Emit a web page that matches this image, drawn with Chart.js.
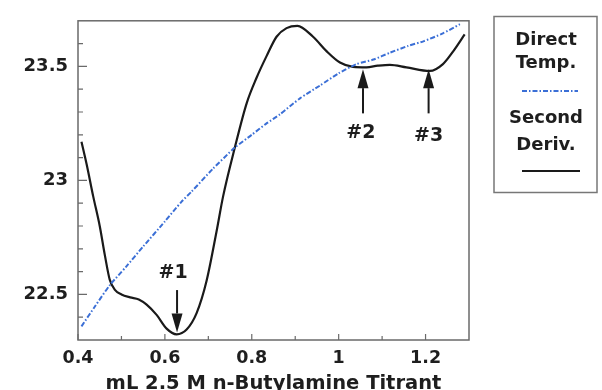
<!DOCTYPE html>
<html>
<head>
<meta charset="utf-8">
<script src="https://cdn.jsdelivr.net/npm/chart.js@4.4.1/dist/chart.umd.min.js"></script>
<style>
  html, body { margin: 0; padding: 0; background: #ffffff; }
  #wrap { width: 602px; height: 390px; }
</style>
</head>
<body>
<div id="wrap"><canvas id="c" width="602" height="390"></canvas></div>
<script>
// ---- Data ----
const directTempX = [0.408, 0.44, 0.473, 0.51, 0.55, 0.60, 0.638, 0.661, 0.71, 0.761, 0.80, 0.834, 0.865, 0.911, 0.957, 1.00, 1.041, 1.08, 1.118, 1.16, 1.195, 1.24, 1.279];
const directTempY = [22.36, 22.45, 22.54, 22.62, 22.71, 22.82, 22.906, 22.95, 23.05, 23.144, 23.20, 23.25, 23.29, 23.36, 23.416, 23.47, 23.51, 23.53, 23.56, 23.59, 23.61, 23.645, 23.685];

const secondDerivX = [0.408, 0.42, 0.435, 0.45, 0.462, 0.473, 0.485, 0.50, 0.52, 0.54, 0.558, 0.581, 0.604, 0.627, 0.65, 0.673, 0.696, 0.719, 0.734, 0.761, 0.788, 0.811, 0.834, 0.857, 0.88, 0.905, 0.941, 0.972, 1.003, 1.033, 1.064, 1.09, 1.118, 1.156, 1.21, 1.24, 1.264, 1.29];
const secondDerivY = [23.17, 23.07, 22.93, 22.80, 22.67, 22.565, 22.52, 22.50, 22.487, 22.478, 22.455, 22.41, 22.35, 22.325, 22.346, 22.418, 22.56, 22.777, 22.93, 23.144, 23.337, 23.45, 23.545, 23.63, 23.668, 23.678, 23.63, 23.567, 23.517, 23.498, 23.496, 23.503, 23.507, 23.496, 23.48, 23.51, 23.567, 23.64];

const xTickValues = [0.4, 0.6, 0.8, 1.0, 1.2];
const xTickLabels = ['0.4', '0.6', '0.8', '1', '1.2'];
const xMinorTicks = [0.5, 0.7, 0.9, 1.1];
const yTickValues = [22.5, 23, 23.5];
const yTickLabels = ['22.5', '23', '23.5'];
const yMinorTicks = [22.4, 22.6, 22.7, 22.8, 22.9, 23.1, 23.2, 23.3, 23.4, 23.6];

const xTitle = 'mL 2.5 M n-Butylamine Titrant';
const seriesNames = ['Direct Temp.', 'Second Deriv.'];

// annotation markers (data coordinates)
const markerLabels = ['#1', '#2', '#3'];
const markerX = [0.628, 1.056, 1.207];
const markerLabelX = [0.619, 1.051, 1.207];
const markerLabelY = [22.592, 23.208, 23.195];
const markerTailY = [22.519, 23.294, 23.294];
const markerTipY = [22.333, 23.488, 23.488];

// ---- Styling ----
const FONT = "'DejaVu Sans', 'Liberation Sans', sans-serif";
const TEXT = '#1e1e1e';
const FRAME = '#6a6a6a';
const BLUE = '#3b6fd6';
const BLACK = '#1a1a1a';

function pts(xs, ys) { return xs.map((x, i) => ({ x: x, y: ys[i] })); }

const framePlugin = {
  id: 'framePlugin',
  afterDatasetsDraw(chart) {
    const { ctx, chartArea: a, scales } = chart;
    const xs = scales.x, ys = scales.y;
    ctx.save();
    // frame
    ctx.strokeStyle = FRAME;
    ctx.lineWidth = 1.5;
    ctx.strokeRect(a.left, a.top, a.right - a.left, a.bottom - a.top);
    // inward ticks
    ctx.lineWidth = 1.2;
    ctx.beginPath();
    xTickValues.forEach(v => { const p = xs.getPixelForValue(v); ctx.moveTo(p, a.bottom); ctx.lineTo(p, a.bottom - 6); });
    xMinorTicks.forEach(v => { const p = xs.getPixelForValue(v); ctx.moveTo(p, a.bottom); ctx.lineTo(p, a.bottom - 4); });
    yTickValues.forEach(v => { const p = ys.getPixelForValue(v); ctx.moveTo(a.left, p); ctx.lineTo(a.left + 9, p); });
    yMinorTicks.forEach(v => { const p = ys.getPixelForValue(v); ctx.moveTo(a.left, p); ctx.lineTo(a.left + 5, p); });
    ctx.stroke();

    // markers
    ctx.fillStyle = TEXT;
    ctx.strokeStyle = BLACK;
    ctx.font = "bold 19px " + FONT;
    ctx.textAlign = 'center';
    ctx.textBaseline = 'middle';
    markerLabels.forEach((lab, i) => {
      ctx.fillText(lab, xs.getPixelForValue(markerLabelX[i]), ys.getPixelForValue(markerLabelY[i]));
      const px = xs.getPixelForValue(markerX[i]);
      const tail = ys.getPixelForValue(markerTailY[i]);
      const tip = ys.getPixelForValue(markerTipY[i]);
      const dir = tip > tail ? 1 : -1;
      const headLen = 19, headHalf = 5.5;
      ctx.lineWidth = 2;
      ctx.beginPath();
      ctx.moveTo(px, tail);
      ctx.lineTo(px, tip - dir * headLen);
      ctx.stroke();
      ctx.beginPath();
      ctx.moveTo(px, tip);
      ctx.lineTo(px - headHalf, tip - dir * headLen);
      ctx.lineTo(px + headHalf, tip - dir * headLen);
      ctx.closePath();
      ctx.fillStyle = BLACK;
      ctx.fill();
      ctx.fillStyle = TEXT;
    });

    // legend box
    ctx.strokeStyle = '#777777';
    ctx.lineWidth = 1.5;
    ctx.strokeRect(494, 16.5, 103, 176);
    ctx.fillStyle = TEXT;
    ctx.font = "bold 18px " + FONT;
    ctx.textAlign = 'center';
    ctx.textBaseline = 'middle';
    const cx = 546;
    ctx.fillText('Direct', cx, 40);
    ctx.fillText('Temp.', cx, 63);
    ctx.fillText('Second', cx, 118);
    ctx.fillText('Deriv.', cx, 145);
    ctx.lineWidth = 2;
    ctx.strokeStyle = BLUE;
    ctx.setLineDash([5, 2, 1.5, 2]);
    ctx.beginPath(); ctx.moveTo(522, 91); ctx.lineTo(578, 91); ctx.stroke();
    ctx.setLineDash([]);
    ctx.strokeStyle = BLACK;
    ctx.lineWidth = 2.2;
    ctx.beginPath(); ctx.moveTo(522, 171); ctx.lineTo(580, 171); ctx.stroke();
    ctx.restore();
  }
};

new Chart(document.getElementById('c'), {
  type: 'line',
  data: {
    datasets: [
      {
        label: seriesNames[0],
        data: pts(directTempX, directTempY),
        borderColor: BLUE,
        borderWidth: 2,
        borderDash: [5, 2, 1.5, 2],
        pointRadius: 0,
        tension: 0.2,
        fill: false
      },
      {
        label: seriesNames[1],
        data: pts(secondDerivX, secondDerivY),
        borderColor: BLACK,
        borderWidth: 2.2,
        pointRadius: 0,
        cubicInterpolationMode: 'monotone',
        fill: false
      }
    ]
  },
  options: {
    responsive: false,
    animation: false,
    devicePixelRatio: 1,
    layout: { padding: { left: 0, right: 133, top: 16, bottom: 0 } },
    plugins: { legend: { display: false }, tooltip: { enabled: false } },
    scales: {
      x: {
        type: 'linear',
        min: 0.4,
        max: 1.3,
        grid: { display: false, drawTicks: false },
        border: { display: false },
        afterBuildTicks: s => { s.ticks = xTickValues.map(v => ({ value: v })); },
        afterFit: s => { s.height = 50; },
        ticks: {
          padding: 8,
          color: TEXT,
          font: { family: FONT, size: 17.5, weight: 'bold' },
          callback: (v) => xTickLabels[xTickValues.indexOf(Math.round(v * 10) / 10)] ?? ''
        },
        title: {
          display: true,
          text: xTitle,
          color: TEXT,
          font: { family: FONT, size: 19.5, weight: 'bold', lineHeight: 1 },
          padding: { top: 0, bottom: -4 }
        }
      },
      y: {
        type: 'linear',
        min: 22.3,
        max: 23.7,
        grid: { display: false, drawTicks: false },
        border: { display: false },
        afterBuildTicks: s => { s.ticks = yTickValues.map(v => ({ value: v })); },
        afterFit: s => { s.width = 78; },
        ticks: {
          padding: 10,
          color: TEXT,
          font: { family: FONT, size: 18, weight: 'bold' },
          callback: (v) => yTickLabels[yTickValues.indexOf(Math.round(v * 10) / 10)] ?? ''
        }
      }
    }
  },
  plugins: [framePlugin]
});
</script>
</body>
</html>
